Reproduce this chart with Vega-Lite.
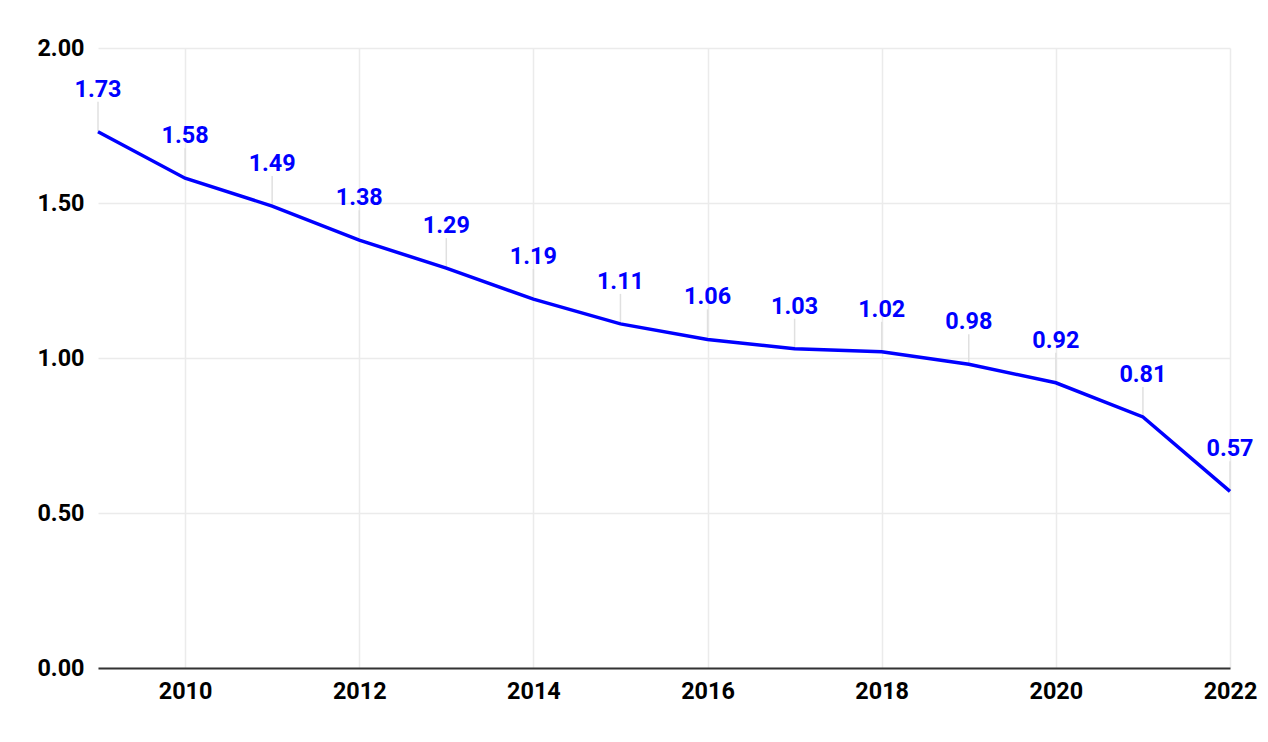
{
  "$schema": "https://vega.github.io/schema/vega-lite/v6.json",
  "width": 1132,
  "height": 620,
  "autosize": {"type": "none"},
  "padding": {"left": 98, "top": 48, "right": 38, "bottom": 74},
  "background": "white",
  "config": {
    "view": {"stroke": null},
    "font": "Roboto"
  },
  "data": {
    "values": [
      {"year": 2009, "value": 1.73},
      {"year": 2010, "value": 1.58},
      {"year": 2011, "value": 1.49},
      {"year": 2012, "value": 1.38},
      {"year": 2013, "value": 1.29},
      {"year": 2014, "value": 1.19},
      {"year": 2015, "value": 1.11},
      {"year": 2016, "value": 1.06},
      {"year": 2017, "value": 1.03},
      {"year": 2018, "value": 1.02},
      {"year": 2019, "value": 0.98},
      {"year": 2020, "value": 0.92},
      {"year": 2021, "value": 0.81},
      {"year": 2022, "value": 0.57}
    ]
  },
  "encoding": {
    "x": {
      "field": "year",
      "type": "quantitative",
      "scale": {"domain": [2009, 2022], "nice": false, "zero": false},
      "axis": {
        "title": null,
        "values": [2010, 2012, 2014, 2016, 2018, 2020, 2022],
        "format": "d",
        "labelFont": "Roboto",
        "labelFontSize": 23.4,
        "labelFontWeight": "bold",
        "labelColor": "#000000",
        "labelPadding": 12,
        "ticks": false,
        "domain": true,
        "domainColor": "#333333",
        "domainWidth": 2,
        "grid": true,
        "gridColor": "#ebebeb",
        "gridWidth": 1.5,
        "labelFlush": false
      }
    },
    "y": {
      "field": "value",
      "type": "quantitative",
      "scale": {"domain": [0, 2], "nice": false},
      "axis": {
        "title": null,
        "values": [0, 0.5, 1, 1.5, 2],
        "format": ".2f",
        "labelFont": "Roboto",
        "labelFontSize": 23.4,
        "labelFontWeight": "bold",
        "labelColor": "#000000",
        "labelPadding": 14,
        "ticks": false,
        "domain": false,
        "grid": true,
        "gridColor": "#ebebeb",
        "gridWidth": 1.5
      }
    }
  },
  "layer": [
    {
      "mark": {"type": "rule", "color": "#e0e0e0", "strokeWidth": 1.5, "y2Offset": -30},
      "encoding": {
        "y2": {"field": "value"}
      }
    },
    {
      "mark": {"type": "line", "color": "#0000ff", "strokeWidth": 3.5}
    },
    {
      "mark": {
        "type": "text",
        "color": "#0000ff",
        "font": "Roboto",
        "fontSize": 23.4,
        "fontWeight": "bold",
        "baseline": "middle",
        "align": "center",
        "dy": -42
      },
      "encoding": {
        "text": {"field": "value", "type": "quantitative", "format": ".2f"}
      }
    }
  ]
}
